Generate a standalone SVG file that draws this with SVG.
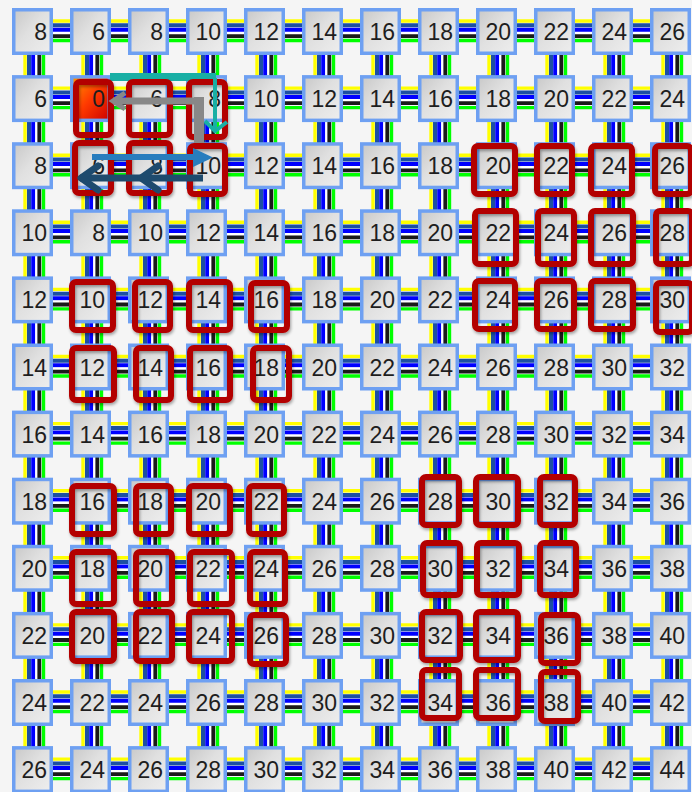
<svg xmlns="http://www.w3.org/2000/svg" xmlns:xlink="http://www.w3.org/1999/xlink" width="692" height="792" viewBox="0 0 692 792">
<style>
.nd{fill:url(#gNode);stroke:#6ea0f2;stroke-width:3.5}
.st{fill:url(#gStart);stroke:#6ea0f2;stroke-width:3.5}
text{font-family:"Liberation Sans",Arial,sans-serif;font-size:23px;fill:#1e1e1e;text-anchor:end}
.hl{fill:none;stroke:#b30000;stroke-width:6;filter:url(#sh)}
.cy{stroke:#ffff00;stroke-width:3.4}
.cd{stroke:#1c4fa3;stroke-width:4}
.cb{stroke:#0000ff;stroke-width:4}
.cw{stroke:#ffffff;stroke-width:2}
.ck{stroke:#1a1a1a;stroke-width:3.8}
.cg{stroke:#00ff00;stroke-width:3.4}
</style>
<defs>
<linearGradient id="gNode" x1="0" y1="0" x2="1" y2="1"><stop offset="0" stop-color="#c8c8c8"/><stop offset="0.45" stop-color="#e0e0e0"/><stop offset="1" stop-color="#eeeeee"/></linearGradient>
<linearGradient id="gStart" x1="0" y1="0" x2="1" y2="1"><stop offset="0" stop-color="#ff9a00"/><stop offset="0.5" stop-color="#ff3a00"/><stop offset="1" stop-color="#cc0000"/></linearGradient>
<filter id="sh" x="-30%" y="-30%" width="160%" height="160%"><feDropShadow dx="1" dy="2" stdDeviation="1.5" flood-color="#000" flood-opacity="0.35"/></filter>
<g id="h"><line x1="-1" x2="59" y1="-10.5" y2="-10.5" class="cy"/><line x1="-1" x2="59" y1="-6.2" y2="-6.2" class="cd"/><line x1="-1" x2="59" y1="-1.7" y2="-1.7" class="cb"/><line x1="-1" x2="59" y1="1.5" y2="1.5" class="cw"/><line x1="-1" x2="59" y1="4.6" y2="4.6" class="ck"/><line x1="-1" x2="59" y1="9" y2="9" class="cg"/></g>
<g id="v"><line y1="-1" y2="68" x1="-7.5" x2="-7.5" class="cy"/><line y1="-1" y2="68" x1="-3.5" x2="-3.5" class="cd"/><line y1="-1" y2="68" x1="0.7" x2="0.7" class="cb"/><line y1="-1" y2="68" x1="3.8" x2="3.8" class="cw"/><line y1="-1" y2="68" x1="6.8" x2="6.8" class="ck"/><line y1="-1" y2="68" x1="11" x2="11" class="cg"/></g>
</defs>
<rect width="692" height="792" fill="#f5f5f5"/>
<g id="connectors">
<use href="#h" x="32.5" y="31.5"/><use href="#h" x="90.5" y="31.5"/><use href="#h" x="148.5" y="31.5"/><use href="#h" x="206.5" y="31.5"/><use href="#h" x="264.5" y="31.5"/><use href="#h" x="322.5" y="31.5"/><use href="#h" x="380.5" y="31.5"/><use href="#h" x="438.5" y="31.5"/><use href="#h" x="496.5" y="31.5"/><use href="#h" x="554.5" y="31.5"/><use href="#h" x="612.5" y="31.5"/>
<use href="#h" x="32.5" y="98.6"/><use href="#h" x="90.5" y="98.6"/><use href="#h" x="148.5" y="98.6"/><use href="#h" x="206.5" y="98.6"/><use href="#h" x="264.5" y="98.6"/><use href="#h" x="322.5" y="98.6"/><use href="#h" x="380.5" y="98.6"/><use href="#h" x="438.5" y="98.6"/><use href="#h" x="496.5" y="98.6"/><use href="#h" x="554.5" y="98.6"/><use href="#h" x="612.5" y="98.6"/>
<use href="#h" x="32.5" y="165.7"/><use href="#h" x="90.5" y="165.7"/><use href="#h" x="148.5" y="165.7"/><use href="#h" x="206.5" y="165.7"/><use href="#h" x="264.5" y="165.7"/><use href="#h" x="322.5" y="165.7"/><use href="#h" x="380.5" y="165.7"/><use href="#h" x="438.5" y="165.7"/><use href="#h" x="496.5" y="165.7"/><use href="#h" x="554.5" y="165.7"/><use href="#h" x="612.5" y="165.7"/>
<use href="#h" x="32.5" y="232.8"/><use href="#h" x="90.5" y="232.8"/><use href="#h" x="148.5" y="232.8"/><use href="#h" x="206.5" y="232.8"/><use href="#h" x="264.5" y="232.8"/><use href="#h" x="322.5" y="232.8"/><use href="#h" x="380.5" y="232.8"/><use href="#h" x="438.5" y="232.8"/><use href="#h" x="496.5" y="232.8"/><use href="#h" x="554.5" y="232.8"/><use href="#h" x="612.5" y="232.8"/>
<use href="#h" x="32.5" y="299.9"/><use href="#h" x="90.5" y="299.9"/><use href="#h" x="148.5" y="299.9"/><use href="#h" x="206.5" y="299.9"/><use href="#h" x="264.5" y="299.9"/><use href="#h" x="322.5" y="299.9"/><use href="#h" x="380.5" y="299.9"/><use href="#h" x="438.5" y="299.9"/><use href="#h" x="496.5" y="299.9"/><use href="#h" x="554.5" y="299.9"/><use href="#h" x="612.5" y="299.9"/>
<use href="#h" x="32.5" y="367"/><use href="#h" x="90.5" y="367"/><use href="#h" x="148.5" y="367"/><use href="#h" x="206.5" y="367"/><use href="#h" x="264.5" y="367"/><use href="#h" x="322.5" y="367"/><use href="#h" x="380.5" y="367"/><use href="#h" x="438.5" y="367"/><use href="#h" x="496.5" y="367"/><use href="#h" x="554.5" y="367"/><use href="#h" x="612.5" y="367"/>
<use href="#h" x="32.5" y="434.1"/><use href="#h" x="90.5" y="434.1"/><use href="#h" x="148.5" y="434.1"/><use href="#h" x="206.5" y="434.1"/><use href="#h" x="264.5" y="434.1"/><use href="#h" x="322.5" y="434.1"/><use href="#h" x="380.5" y="434.1"/><use href="#h" x="438.5" y="434.1"/><use href="#h" x="496.5" y="434.1"/><use href="#h" x="554.5" y="434.1"/><use href="#h" x="612.5" y="434.1"/>
<use href="#h" x="32.5" y="501.2"/><use href="#h" x="90.5" y="501.2"/><use href="#h" x="148.5" y="501.2"/><use href="#h" x="206.5" y="501.2"/><use href="#h" x="264.5" y="501.2"/><use href="#h" x="322.5" y="501.2"/><use href="#h" x="380.5" y="501.2"/><use href="#h" x="438.5" y="501.2"/><use href="#h" x="496.5" y="501.2"/><use href="#h" x="554.5" y="501.2"/><use href="#h" x="612.5" y="501.2"/>
<use href="#h" x="32.5" y="568.3"/><use href="#h" x="90.5" y="568.3"/><use href="#h" x="148.5" y="568.3"/><use href="#h" x="206.5" y="568.3"/><use href="#h" x="264.5" y="568.3"/><use href="#h" x="322.5" y="568.3"/><use href="#h" x="380.5" y="568.3"/><use href="#h" x="438.5" y="568.3"/><use href="#h" x="496.5" y="568.3"/><use href="#h" x="554.5" y="568.3"/><use href="#h" x="612.5" y="568.3"/>
<use href="#h" x="32.5" y="635.4"/><use href="#h" x="90.5" y="635.4"/><use href="#h" x="148.5" y="635.4"/><use href="#h" x="206.5" y="635.4"/><use href="#h" x="264.5" y="635.4"/><use href="#h" x="322.5" y="635.4"/><use href="#h" x="380.5" y="635.4"/><use href="#h" x="438.5" y="635.4"/><use href="#h" x="496.5" y="635.4"/><use href="#h" x="554.5" y="635.4"/><use href="#h" x="612.5" y="635.4"/>
<use href="#h" x="32.5" y="702.5"/><use href="#h" x="90.5" y="702.5"/><use href="#h" x="148.5" y="702.5"/><use href="#h" x="206.5" y="702.5"/><use href="#h" x="264.5" y="702.5"/><use href="#h" x="322.5" y="702.5"/><use href="#h" x="380.5" y="702.5"/><use href="#h" x="438.5" y="702.5"/><use href="#h" x="496.5" y="702.5"/><use href="#h" x="554.5" y="702.5"/><use href="#h" x="612.5" y="702.5"/>
<use href="#h" x="32.5" y="769.6"/><use href="#h" x="90.5" y="769.6"/><use href="#h" x="148.5" y="769.6"/><use href="#h" x="206.5" y="769.6"/><use href="#h" x="264.5" y="769.6"/><use href="#h" x="322.5" y="769.6"/><use href="#h" x="380.5" y="769.6"/><use href="#h" x="438.5" y="769.6"/><use href="#h" x="496.5" y="769.6"/><use href="#h" x="554.5" y="769.6"/><use href="#h" x="612.5" y="769.6"/>
<use href="#v" x="32.5" y="31.5"/><use href="#v" x="32.5" y="98.6"/><use href="#v" x="32.5" y="165.7"/><use href="#v" x="32.5" y="232.8"/><use href="#v" x="32.5" y="299.9"/><use href="#v" x="32.5" y="367"/><use href="#v" x="32.5" y="434.1"/><use href="#v" x="32.5" y="501.2"/><use href="#v" x="32.5" y="568.3"/><use href="#v" x="32.5" y="635.4"/><use href="#v" x="32.5" y="702.5"/>
<use href="#v" x="90.5" y="31.5"/><use href="#v" x="90.5" y="98.6"/><use href="#v" x="90.5" y="165.7"/><use href="#v" x="90.5" y="232.8"/><use href="#v" x="90.5" y="299.9"/><use href="#v" x="90.5" y="367"/><use href="#v" x="90.5" y="434.1"/><use href="#v" x="90.5" y="501.2"/><use href="#v" x="90.5" y="568.3"/><use href="#v" x="90.5" y="635.4"/><use href="#v" x="90.5" y="702.5"/>
<use href="#v" x="148.5" y="31.5"/><use href="#v" x="148.5" y="98.6"/><use href="#v" x="148.5" y="165.7"/><use href="#v" x="148.5" y="232.8"/><use href="#v" x="148.5" y="299.9"/><use href="#v" x="148.5" y="367"/><use href="#v" x="148.5" y="434.1"/><use href="#v" x="148.5" y="501.2"/><use href="#v" x="148.5" y="568.3"/><use href="#v" x="148.5" y="635.4"/><use href="#v" x="148.5" y="702.5"/>
<use href="#v" x="206.5" y="31.5"/><use href="#v" x="206.5" y="98.6"/><use href="#v" x="206.5" y="165.7"/><use href="#v" x="206.5" y="232.8"/><use href="#v" x="206.5" y="299.9"/><use href="#v" x="206.5" y="367"/><use href="#v" x="206.5" y="434.1"/><use href="#v" x="206.5" y="501.2"/><use href="#v" x="206.5" y="568.3"/><use href="#v" x="206.5" y="635.4"/><use href="#v" x="206.5" y="702.5"/>
<use href="#v" x="264.5" y="31.5"/><use href="#v" x="264.5" y="98.6"/><use href="#v" x="264.5" y="165.7"/><use href="#v" x="264.5" y="232.8"/><use href="#v" x="264.5" y="299.9"/><use href="#v" x="264.5" y="367"/><use href="#v" x="264.5" y="434.1"/><use href="#v" x="264.5" y="501.2"/><use href="#v" x="264.5" y="568.3"/><use href="#v" x="264.5" y="635.4"/><use href="#v" x="264.5" y="702.5"/>
<use href="#v" x="322.5" y="31.5"/><use href="#v" x="322.5" y="98.6"/><use href="#v" x="322.5" y="165.7"/><use href="#v" x="322.5" y="232.8"/><use href="#v" x="322.5" y="299.9"/><use href="#v" x="322.5" y="367"/><use href="#v" x="322.5" y="434.1"/><use href="#v" x="322.5" y="501.2"/><use href="#v" x="322.5" y="568.3"/><use href="#v" x="322.5" y="635.4"/><use href="#v" x="322.5" y="702.5"/>
<use href="#v" x="380.5" y="31.5"/><use href="#v" x="380.5" y="98.6"/><use href="#v" x="380.5" y="165.7"/><use href="#v" x="380.5" y="232.8"/><use href="#v" x="380.5" y="299.9"/><use href="#v" x="380.5" y="367"/><use href="#v" x="380.5" y="434.1"/><use href="#v" x="380.5" y="501.2"/><use href="#v" x="380.5" y="568.3"/><use href="#v" x="380.5" y="635.4"/><use href="#v" x="380.5" y="702.5"/>
<use href="#v" x="438.5" y="31.5"/><use href="#v" x="438.5" y="98.6"/><use href="#v" x="438.5" y="165.7"/><use href="#v" x="438.5" y="232.8"/><use href="#v" x="438.5" y="299.9"/><use href="#v" x="438.5" y="367"/><use href="#v" x="438.5" y="434.1"/><use href="#v" x="438.5" y="501.2"/><use href="#v" x="438.5" y="568.3"/><use href="#v" x="438.5" y="635.4"/><use href="#v" x="438.5" y="702.5"/>
<use href="#v" x="496.5" y="31.5"/><use href="#v" x="496.5" y="98.6"/><use href="#v" x="496.5" y="165.7"/><use href="#v" x="496.5" y="232.8"/><use href="#v" x="496.5" y="299.9"/><use href="#v" x="496.5" y="367"/><use href="#v" x="496.5" y="434.1"/><use href="#v" x="496.5" y="501.2"/><use href="#v" x="496.5" y="568.3"/><use href="#v" x="496.5" y="635.4"/><use href="#v" x="496.5" y="702.5"/>
<use href="#v" x="554.5" y="31.5"/><use href="#v" x="554.5" y="98.6"/><use href="#v" x="554.5" y="165.7"/><use href="#v" x="554.5" y="232.8"/><use href="#v" x="554.5" y="299.9"/><use href="#v" x="554.5" y="367"/><use href="#v" x="554.5" y="434.1"/><use href="#v" x="554.5" y="501.2"/><use href="#v" x="554.5" y="568.3"/><use href="#v" x="554.5" y="635.4"/><use href="#v" x="554.5" y="702.5"/>
<use href="#v" x="612.5" y="31.5"/><use href="#v" x="612.5" y="98.6"/><use href="#v" x="612.5" y="165.7"/><use href="#v" x="612.5" y="232.8"/><use href="#v" x="612.5" y="299.9"/><use href="#v" x="612.5" y="367"/><use href="#v" x="612.5" y="434.1"/><use href="#v" x="612.5" y="501.2"/><use href="#v" x="612.5" y="568.3"/><use href="#v" x="612.5" y="635.4"/><use href="#v" x="612.5" y="702.5"/>
<use href="#v" x="670.5" y="31.5"/><use href="#v" x="670.5" y="98.6"/><use href="#v" x="670.5" y="165.7"/><use href="#v" x="670.5" y="232.8"/><use href="#v" x="670.5" y="299.9"/><use href="#v" x="670.5" y="367"/><use href="#v" x="670.5" y="434.1"/><use href="#v" x="670.5" y="501.2"/><use href="#v" x="670.5" y="568.3"/><use href="#v" x="670.5" y="635.4"/><use href="#v" x="670.5" y="702.5"/>
</g>
<g id="nodes">
<g id="n0-0" transform="translate(12 8)"><rect class="nd" x="1.75" y="1.75" width="37.5" height="43.5"/><text x="35" y="32">8</text></g>
<g id="n0-1" transform="translate(70 8)"><rect class="nd" x="1.75" y="1.75" width="37.5" height="43.5"/><text x="35" y="32">6</text></g>
<g id="n0-2" transform="translate(128 8)"><rect class="nd" x="1.75" y="1.75" width="37.5" height="43.5"/><text x="35" y="32">8</text></g>
<g id="n0-3" transform="translate(186 8)"><rect class="nd" x="1.75" y="1.75" width="37.5" height="43.5"/><text x="35" y="32">10</text></g>
<g id="n0-4" transform="translate(244 8)"><rect class="nd" x="1.75" y="1.75" width="37.5" height="43.5"/><text x="35" y="32">12</text></g>
<g id="n0-5" transform="translate(302 8)"><rect class="nd" x="1.75" y="1.75" width="37.5" height="43.5"/><text x="35" y="32">14</text></g>
<g id="n0-6" transform="translate(360 8)"><rect class="nd" x="1.75" y="1.75" width="37.5" height="43.5"/><text x="35" y="32">16</text></g>
<g id="n0-7" transform="translate(418 8)"><rect class="nd" x="1.75" y="1.75" width="37.5" height="43.5"/><text x="35" y="32">18</text></g>
<g id="n0-8" transform="translate(476 8)"><rect class="nd" x="1.75" y="1.75" width="37.5" height="43.5"/><text x="35" y="32">20</text></g>
<g id="n0-9" transform="translate(534 8)"><rect class="nd" x="1.75" y="1.75" width="37.5" height="43.5"/><text x="35" y="32">22</text></g>
<g id="n0-10" transform="translate(592 8)"><rect class="nd" x="1.75" y="1.75" width="37.5" height="43.5"/><text x="35" y="32">24</text></g>
<g id="n0-11" transform="translate(650 8)"><rect class="nd" x="1.75" y="1.75" width="37.5" height="43.5"/><text x="35" y="32">26</text></g>
<g id="n1-0" transform="translate(12 75.1)"><rect class="nd" x="1.75" y="1.75" width="37.5" height="43.5"/><text x="35" y="32">6</text></g>
<g id="n1-1" transform="translate(70 75.1)"><rect class="st" x="1.75" y="1.75" width="37.5" height="43.5"/><text x="35" y="32">0</text></g>
<g id="n1-2" transform="translate(128 75.1)"><rect class="nd" x="1.75" y="1.75" width="37.5" height="43.5"/><text x="35" y="32">6</text></g>
<g id="n1-3" transform="translate(186 75.1)"><rect class="nd" x="1.75" y="1.75" width="37.5" height="43.5"/><text x="35" y="32">8</text></g>
<g id="n1-4" transform="translate(244 75.1)"><rect class="nd" x="1.75" y="1.75" width="37.5" height="43.5"/><text x="35" y="32">10</text></g>
<g id="n1-5" transform="translate(302 75.1)"><rect class="nd" x="1.75" y="1.75" width="37.5" height="43.5"/><text x="35" y="32">12</text></g>
<g id="n1-6" transform="translate(360 75.1)"><rect class="nd" x="1.75" y="1.75" width="37.5" height="43.5"/><text x="35" y="32">14</text></g>
<g id="n1-7" transform="translate(418 75.1)"><rect class="nd" x="1.75" y="1.75" width="37.5" height="43.5"/><text x="35" y="32">16</text></g>
<g id="n1-8" transform="translate(476 75.1)"><rect class="nd" x="1.75" y="1.75" width="37.5" height="43.5"/><text x="35" y="32">18</text></g>
<g id="n1-9" transform="translate(534 75.1)"><rect class="nd" x="1.75" y="1.75" width="37.5" height="43.5"/><text x="35" y="32">20</text></g>
<g id="n1-10" transform="translate(592 75.1)"><rect class="nd" x="1.75" y="1.75" width="37.5" height="43.5"/><text x="35" y="32">22</text></g>
<g id="n1-11" transform="translate(650 75.1)"><rect class="nd" x="1.75" y="1.75" width="37.5" height="43.5"/><text x="35" y="32">24</text></g>
<g id="n2-0" transform="translate(12 142.2)"><rect class="nd" x="1.75" y="1.75" width="37.5" height="43.5"/><text x="35" y="32">8</text></g>
<g id="n2-1" transform="translate(70 142.2)"><rect class="nd" x="1.75" y="1.75" width="37.5" height="43.5"/><text x="35" y="32">6</text></g>
<g id="n2-2" transform="translate(128 142.2)"><rect class="nd" x="1.75" y="1.75" width="37.5" height="43.5"/><text x="35" y="32">8</text></g>
<g id="n2-3" transform="translate(186 142.2)"><rect class="nd" x="1.75" y="1.75" width="37.5" height="43.5"/><text x="35" y="32">10</text></g>
<g id="n2-4" transform="translate(244 142.2)"><rect class="nd" x="1.75" y="1.75" width="37.5" height="43.5"/><text x="35" y="32">12</text></g>
<g id="n2-5" transform="translate(302 142.2)"><rect class="nd" x="1.75" y="1.75" width="37.5" height="43.5"/><text x="35" y="32">14</text></g>
<g id="n2-6" transform="translate(360 142.2)"><rect class="nd" x="1.75" y="1.75" width="37.5" height="43.5"/><text x="35" y="32">16</text></g>
<g id="n2-7" transform="translate(418 142.2)"><rect class="nd" x="1.75" y="1.75" width="37.5" height="43.5"/><text x="35" y="32">18</text></g>
<g id="n2-8" transform="translate(476 142.2)"><rect class="nd" x="1.75" y="1.75" width="37.5" height="43.5"/><text x="35" y="32">20</text></g>
<g id="n2-9" transform="translate(534 142.2)"><rect class="nd" x="1.75" y="1.75" width="37.5" height="43.5"/><text x="35" y="32">22</text></g>
<g id="n2-10" transform="translate(592 142.2)"><rect class="nd" x="1.75" y="1.75" width="37.5" height="43.5"/><text x="35" y="32">24</text></g>
<g id="n2-11" transform="translate(650 142.2)"><rect class="nd" x="1.75" y="1.75" width="37.5" height="43.5"/><text x="35" y="32">26</text></g>
<g id="n3-0" transform="translate(12 209.3)"><rect class="nd" x="1.75" y="1.75" width="37.5" height="43.5"/><text x="35" y="32">10</text></g>
<g id="n3-1" transform="translate(70 209.3)"><rect class="nd" x="1.75" y="1.75" width="37.5" height="43.5"/><text x="35" y="32">8</text></g>
<g id="n3-2" transform="translate(128 209.3)"><rect class="nd" x="1.75" y="1.75" width="37.5" height="43.5"/><text x="35" y="32">10</text></g>
<g id="n3-3" transform="translate(186 209.3)"><rect class="nd" x="1.75" y="1.75" width="37.5" height="43.5"/><text x="35" y="32">12</text></g>
<g id="n3-4" transform="translate(244 209.3)"><rect class="nd" x="1.75" y="1.75" width="37.5" height="43.5"/><text x="35" y="32">14</text></g>
<g id="n3-5" transform="translate(302 209.3)"><rect class="nd" x="1.75" y="1.75" width="37.5" height="43.5"/><text x="35" y="32">16</text></g>
<g id="n3-6" transform="translate(360 209.3)"><rect class="nd" x="1.75" y="1.75" width="37.5" height="43.5"/><text x="35" y="32">18</text></g>
<g id="n3-7" transform="translate(418 209.3)"><rect class="nd" x="1.75" y="1.75" width="37.5" height="43.5"/><text x="35" y="32">20</text></g>
<g id="n3-8" transform="translate(476 209.3)"><rect class="nd" x="1.75" y="1.75" width="37.5" height="43.5"/><text x="35" y="32">22</text></g>
<g id="n3-9" transform="translate(534 209.3)"><rect class="nd" x="1.75" y="1.75" width="37.5" height="43.5"/><text x="35" y="32">24</text></g>
<g id="n3-10" transform="translate(592 209.3)"><rect class="nd" x="1.75" y="1.75" width="37.5" height="43.5"/><text x="35" y="32">26</text></g>
<g id="n3-11" transform="translate(650 209.3)"><rect class="nd" x="1.75" y="1.75" width="37.5" height="43.5"/><text x="35" y="32">28</text></g>
<g id="n4-0" transform="translate(12 276.4)"><rect class="nd" x="1.75" y="1.75" width="37.5" height="43.5"/><text x="35" y="32">12</text></g>
<g id="n4-1" transform="translate(70 276.4)"><rect class="nd" x="1.75" y="1.75" width="37.5" height="43.5"/><text x="35" y="32">10</text></g>
<g id="n4-2" transform="translate(128 276.4)"><rect class="nd" x="1.75" y="1.75" width="37.5" height="43.5"/><text x="35" y="32">12</text></g>
<g id="n4-3" transform="translate(186 276.4)"><rect class="nd" x="1.75" y="1.75" width="37.5" height="43.5"/><text x="35" y="32">14</text></g>
<g id="n4-4" transform="translate(244 276.4)"><rect class="nd" x="1.75" y="1.75" width="37.5" height="43.5"/><text x="35" y="32">16</text></g>
<g id="n4-5" transform="translate(302 276.4)"><rect class="nd" x="1.75" y="1.75" width="37.5" height="43.5"/><text x="35" y="32">18</text></g>
<g id="n4-6" transform="translate(360 276.4)"><rect class="nd" x="1.75" y="1.75" width="37.5" height="43.5"/><text x="35" y="32">20</text></g>
<g id="n4-7" transform="translate(418 276.4)"><rect class="nd" x="1.75" y="1.75" width="37.5" height="43.5"/><text x="35" y="32">22</text></g>
<g id="n4-8" transform="translate(476 276.4)"><rect class="nd" x="1.75" y="1.75" width="37.5" height="43.5"/><text x="35" y="32">24</text></g>
<g id="n4-9" transform="translate(534 276.4)"><rect class="nd" x="1.75" y="1.75" width="37.5" height="43.5"/><text x="35" y="32">26</text></g>
<g id="n4-10" transform="translate(592 276.4)"><rect class="nd" x="1.75" y="1.75" width="37.5" height="43.5"/><text x="35" y="32">28</text></g>
<g id="n4-11" transform="translate(650 276.4)"><rect class="nd" x="1.75" y="1.75" width="37.5" height="43.5"/><text x="35" y="32">30</text></g>
<g id="n5-0" transform="translate(12 343.5)"><rect class="nd" x="1.75" y="1.75" width="37.5" height="43.5"/><text x="35" y="32">14</text></g>
<g id="n5-1" transform="translate(70 343.5)"><rect class="nd" x="1.75" y="1.75" width="37.5" height="43.5"/><text x="35" y="32">12</text></g>
<g id="n5-2" transform="translate(128 343.5)"><rect class="nd" x="1.75" y="1.75" width="37.5" height="43.5"/><text x="35" y="32">14</text></g>
<g id="n5-3" transform="translate(186 343.5)"><rect class="nd" x="1.75" y="1.75" width="37.5" height="43.5"/><text x="35" y="32">16</text></g>
<g id="n5-4" transform="translate(244 343.5)"><rect class="nd" x="1.75" y="1.75" width="37.5" height="43.5"/><text x="35" y="32">18</text></g>
<g id="n5-5" transform="translate(302 343.5)"><rect class="nd" x="1.75" y="1.75" width="37.5" height="43.5"/><text x="35" y="32">20</text></g>
<g id="n5-6" transform="translate(360 343.5)"><rect class="nd" x="1.75" y="1.75" width="37.5" height="43.5"/><text x="35" y="32">22</text></g>
<g id="n5-7" transform="translate(418 343.5)"><rect class="nd" x="1.75" y="1.75" width="37.5" height="43.5"/><text x="35" y="32">24</text></g>
<g id="n5-8" transform="translate(476 343.5)"><rect class="nd" x="1.75" y="1.75" width="37.5" height="43.5"/><text x="35" y="32">26</text></g>
<g id="n5-9" transform="translate(534 343.5)"><rect class="nd" x="1.75" y="1.75" width="37.5" height="43.5"/><text x="35" y="32">28</text></g>
<g id="n5-10" transform="translate(592 343.5)"><rect class="nd" x="1.75" y="1.75" width="37.5" height="43.5"/><text x="35" y="32">30</text></g>
<g id="n5-11" transform="translate(650 343.5)"><rect class="nd" x="1.75" y="1.75" width="37.5" height="43.5"/><text x="35" y="32">32</text></g>
<g id="n6-0" transform="translate(12 410.6)"><rect class="nd" x="1.75" y="1.75" width="37.5" height="43.5"/><text x="35" y="32">16</text></g>
<g id="n6-1" transform="translate(70 410.6)"><rect class="nd" x="1.75" y="1.75" width="37.5" height="43.5"/><text x="35" y="32">14</text></g>
<g id="n6-2" transform="translate(128 410.6)"><rect class="nd" x="1.75" y="1.75" width="37.5" height="43.5"/><text x="35" y="32">16</text></g>
<g id="n6-3" transform="translate(186 410.6)"><rect class="nd" x="1.75" y="1.75" width="37.5" height="43.5"/><text x="35" y="32">18</text></g>
<g id="n6-4" transform="translate(244 410.6)"><rect class="nd" x="1.75" y="1.75" width="37.5" height="43.5"/><text x="35" y="32">20</text></g>
<g id="n6-5" transform="translate(302 410.6)"><rect class="nd" x="1.75" y="1.75" width="37.5" height="43.5"/><text x="35" y="32">22</text></g>
<g id="n6-6" transform="translate(360 410.6)"><rect class="nd" x="1.75" y="1.75" width="37.5" height="43.5"/><text x="35" y="32">24</text></g>
<g id="n6-7" transform="translate(418 410.6)"><rect class="nd" x="1.75" y="1.75" width="37.5" height="43.5"/><text x="35" y="32">26</text></g>
<g id="n6-8" transform="translate(476 410.6)"><rect class="nd" x="1.75" y="1.75" width="37.5" height="43.5"/><text x="35" y="32">28</text></g>
<g id="n6-9" transform="translate(534 410.6)"><rect class="nd" x="1.75" y="1.75" width="37.5" height="43.5"/><text x="35" y="32">30</text></g>
<g id="n6-10" transform="translate(592 410.6)"><rect class="nd" x="1.75" y="1.75" width="37.5" height="43.5"/><text x="35" y="32">32</text></g>
<g id="n6-11" transform="translate(650 410.6)"><rect class="nd" x="1.75" y="1.75" width="37.5" height="43.5"/><text x="35" y="32">34</text></g>
<g id="n7-0" transform="translate(12 477.7)"><rect class="nd" x="1.75" y="1.75" width="37.5" height="43.5"/><text x="35" y="32">18</text></g>
<g id="n7-1" transform="translate(70 477.7)"><rect class="nd" x="1.75" y="1.75" width="37.5" height="43.5"/><text x="35" y="32">16</text></g>
<g id="n7-2" transform="translate(128 477.7)"><rect class="nd" x="1.75" y="1.75" width="37.5" height="43.5"/><text x="35" y="32">18</text></g>
<g id="n7-3" transform="translate(186 477.7)"><rect class="nd" x="1.75" y="1.75" width="37.5" height="43.5"/><text x="35" y="32">20</text></g>
<g id="n7-4" transform="translate(244 477.7)"><rect class="nd" x="1.75" y="1.75" width="37.5" height="43.5"/><text x="35" y="32">22</text></g>
<g id="n7-5" transform="translate(302 477.7)"><rect class="nd" x="1.75" y="1.75" width="37.5" height="43.5"/><text x="35" y="32">24</text></g>
<g id="n7-6" transform="translate(360 477.7)"><rect class="nd" x="1.75" y="1.75" width="37.5" height="43.5"/><text x="35" y="32">26</text></g>
<g id="n7-7" transform="translate(418 477.7)"><rect class="nd" x="1.75" y="1.75" width="37.5" height="43.5"/><text x="35" y="32">28</text></g>
<g id="n7-8" transform="translate(476 477.7)"><rect class="nd" x="1.75" y="1.75" width="37.5" height="43.5"/><text x="35" y="32">30</text></g>
<g id="n7-9" transform="translate(534 477.7)"><rect class="nd" x="1.75" y="1.75" width="37.5" height="43.5"/><text x="35" y="32">32</text></g>
<g id="n7-10" transform="translate(592 477.7)"><rect class="nd" x="1.75" y="1.75" width="37.5" height="43.5"/><text x="35" y="32">34</text></g>
<g id="n7-11" transform="translate(650 477.7)"><rect class="nd" x="1.75" y="1.75" width="37.5" height="43.5"/><text x="35" y="32">36</text></g>
<g id="n8-0" transform="translate(12 544.8)"><rect class="nd" x="1.75" y="1.75" width="37.5" height="43.5"/><text x="35" y="32">20</text></g>
<g id="n8-1" transform="translate(70 544.8)"><rect class="nd" x="1.75" y="1.75" width="37.5" height="43.5"/><text x="35" y="32">18</text></g>
<g id="n8-2" transform="translate(128 544.8)"><rect class="nd" x="1.75" y="1.75" width="37.5" height="43.5"/><text x="35" y="32">20</text></g>
<g id="n8-3" transform="translate(186 544.8)"><rect class="nd" x="1.75" y="1.75" width="37.5" height="43.5"/><text x="35" y="32">22</text></g>
<g id="n8-4" transform="translate(244 544.8)"><rect class="nd" x="1.75" y="1.75" width="37.5" height="43.5"/><text x="35" y="32">24</text></g>
<g id="n8-5" transform="translate(302 544.8)"><rect class="nd" x="1.75" y="1.75" width="37.5" height="43.5"/><text x="35" y="32">26</text></g>
<g id="n8-6" transform="translate(360 544.8)"><rect class="nd" x="1.75" y="1.75" width="37.5" height="43.5"/><text x="35" y="32">28</text></g>
<g id="n8-7" transform="translate(418 544.8)"><rect class="nd" x="1.75" y="1.75" width="37.5" height="43.5"/><text x="35" y="32">30</text></g>
<g id="n8-8" transform="translate(476 544.8)"><rect class="nd" x="1.75" y="1.75" width="37.5" height="43.5"/><text x="35" y="32">32</text></g>
<g id="n8-9" transform="translate(534 544.8)"><rect class="nd" x="1.75" y="1.75" width="37.5" height="43.5"/><text x="35" y="32">34</text></g>
<g id="n8-10" transform="translate(592 544.8)"><rect class="nd" x="1.75" y="1.75" width="37.5" height="43.5"/><text x="35" y="32">36</text></g>
<g id="n8-11" transform="translate(650 544.8)"><rect class="nd" x="1.75" y="1.75" width="37.5" height="43.5"/><text x="35" y="32">38</text></g>
<g id="n9-0" transform="translate(12 611.9)"><rect class="nd" x="1.75" y="1.75" width="37.5" height="43.5"/><text x="35" y="32">22</text></g>
<g id="n9-1" transform="translate(70 611.9)"><rect class="nd" x="1.75" y="1.75" width="37.5" height="43.5"/><text x="35" y="32">20</text></g>
<g id="n9-2" transform="translate(128 611.9)"><rect class="nd" x="1.75" y="1.75" width="37.5" height="43.5"/><text x="35" y="32">22</text></g>
<g id="n9-3" transform="translate(186 611.9)"><rect class="nd" x="1.75" y="1.75" width="37.5" height="43.5"/><text x="35" y="32">24</text></g>
<g id="n9-4" transform="translate(244 611.9)"><rect class="nd" x="1.75" y="1.75" width="37.5" height="43.5"/><text x="35" y="32">26</text></g>
<g id="n9-5" transform="translate(302 611.9)"><rect class="nd" x="1.75" y="1.75" width="37.5" height="43.5"/><text x="35" y="32">28</text></g>
<g id="n9-6" transform="translate(360 611.9)"><rect class="nd" x="1.75" y="1.75" width="37.5" height="43.5"/><text x="35" y="32">30</text></g>
<g id="n9-7" transform="translate(418 611.9)"><rect class="nd" x="1.75" y="1.75" width="37.5" height="43.5"/><text x="35" y="32">32</text></g>
<g id="n9-8" transform="translate(476 611.9)"><rect class="nd" x="1.75" y="1.75" width="37.5" height="43.5"/><text x="35" y="32">34</text></g>
<g id="n9-9" transform="translate(534 611.9)"><rect class="nd" x="1.75" y="1.75" width="37.5" height="43.5"/><text x="35" y="32">36</text></g>
<g id="n9-10" transform="translate(592 611.9)"><rect class="nd" x="1.75" y="1.75" width="37.5" height="43.5"/><text x="35" y="32">38</text></g>
<g id="n9-11" transform="translate(650 611.9)"><rect class="nd" x="1.75" y="1.75" width="37.5" height="43.5"/><text x="35" y="32">40</text></g>
<g id="n10-0" transform="translate(12 679)"><rect class="nd" x="1.75" y="1.75" width="37.5" height="43.5"/><text x="35" y="32">24</text></g>
<g id="n10-1" transform="translate(70 679)"><rect class="nd" x="1.75" y="1.75" width="37.5" height="43.5"/><text x="35" y="32">22</text></g>
<g id="n10-2" transform="translate(128 679)"><rect class="nd" x="1.75" y="1.75" width="37.5" height="43.5"/><text x="35" y="32">24</text></g>
<g id="n10-3" transform="translate(186 679)"><rect class="nd" x="1.75" y="1.75" width="37.5" height="43.5"/><text x="35" y="32">26</text></g>
<g id="n10-4" transform="translate(244 679)"><rect class="nd" x="1.75" y="1.75" width="37.5" height="43.5"/><text x="35" y="32">28</text></g>
<g id="n10-5" transform="translate(302 679)"><rect class="nd" x="1.75" y="1.75" width="37.5" height="43.5"/><text x="35" y="32">30</text></g>
<g id="n10-6" transform="translate(360 679)"><rect class="nd" x="1.75" y="1.75" width="37.5" height="43.5"/><text x="35" y="32">32</text></g>
<g id="n10-7" transform="translate(418 679)"><rect class="nd" x="1.75" y="1.75" width="37.5" height="43.5"/><text x="35" y="32">34</text></g>
<g id="n10-8" transform="translate(476 679)"><rect class="nd" x="1.75" y="1.75" width="37.5" height="43.5"/><text x="35" y="32">36</text></g>
<g id="n10-9" transform="translate(534 679)"><rect class="nd" x="1.75" y="1.75" width="37.5" height="43.5"/><text x="35" y="32">38</text></g>
<g id="n10-10" transform="translate(592 679)"><rect class="nd" x="1.75" y="1.75" width="37.5" height="43.5"/><text x="35" y="32">40</text></g>
<g id="n10-11" transform="translate(650 679)"><rect class="nd" x="1.75" y="1.75" width="37.5" height="43.5"/><text x="35" y="32">42</text></g>
<g id="n11-0" transform="translate(12 746.1)"><rect class="nd" x="1.75" y="1.75" width="37.5" height="43.5"/><text x="35" y="32">26</text></g>
<g id="n11-1" transform="translate(70 746.1)"><rect class="nd" x="1.75" y="1.75" width="37.5" height="43.5"/><text x="35" y="32">24</text></g>
<g id="n11-2" transform="translate(128 746.1)"><rect class="nd" x="1.75" y="1.75" width="37.5" height="43.5"/><text x="35" y="32">26</text></g>
<g id="n11-3" transform="translate(186 746.1)"><rect class="nd" x="1.75" y="1.75" width="37.5" height="43.5"/><text x="35" y="32">28</text></g>
<g id="n11-4" transform="translate(244 746.1)"><rect class="nd" x="1.75" y="1.75" width="37.5" height="43.5"/><text x="35" y="32">30</text></g>
<g id="n11-5" transform="translate(302 746.1)"><rect class="nd" x="1.75" y="1.75" width="37.5" height="43.5"/><text x="35" y="32">32</text></g>
<g id="n11-6" transform="translate(360 746.1)"><rect class="nd" x="1.75" y="1.75" width="37.5" height="43.5"/><text x="35" y="32">34</text></g>
<g id="n11-7" transform="translate(418 746.1)"><rect class="nd" x="1.75" y="1.75" width="37.5" height="43.5"/><text x="35" y="32">36</text></g>
<g id="n11-8" transform="translate(476 746.1)"><rect class="nd" x="1.75" y="1.75" width="37.5" height="43.5"/><text x="35" y="32">38</text></g>
<g id="n11-9" transform="translate(534 746.1)"><rect class="nd" x="1.75" y="1.75" width="37.5" height="43.5"/><text x="35" y="32">40</text></g>
<g id="n11-10" transform="translate(592 746.1)"><rect class="nd" x="1.75" y="1.75" width="37.5" height="43.5"/><text x="35" y="32">42</text></g>
<g id="n11-11" transform="translate(650 746.1)"><rect class="nd" x="1.75" y="1.75" width="37.5" height="43.5"/><text x="35" y="32">44</text></g>
</g>
<g id="route-top">
<line x1="110" y1="77" x2="216" y2="77" stroke="#19afa5" stroke-width="8"/>
</g>
<g id="highlights">
<rect class="hl" rx="4" x="76" y="82" width="35" height="53"/>
<rect class="hl" rx="4" x="129" y="82" width="41" height="53"/>
<rect class="hl" rx="4" x="189" y="82" width="36" height="55"/>
<rect class="hl" rx="4" x="75" y="143" width="36" height="50"/>
<rect class="hl" rx="4" x="129" y="143" width="41" height="50"/>
<rect class="hl" rx="4" x="190" y="146" width="35" height="48"/>
<rect class="hl" rx="4" x="474" y="146" width="41" height="48"/>
<rect class="hl" rx="4" x="537" y="146" width="35" height="48"/>
<rect class="hl" rx="4" x="591" y="146" width="41" height="48"/>
<rect class="hl" rx="4" x="655" y="146" width="36" height="48"/>
<rect class="hl" rx="4" x="475" y="211" width="41" height="53"/>
<rect class="hl" rx="4" x="538" y="211" width="36" height="53"/>
<rect class="hl" rx="4" x="591" y="211" width="42" height="53"/>
<rect class="hl" rx="4" x="656" y="211" width="36" height="53"/>
<rect class="hl" rx="4" x="72" y="282" width="41" height="48"/>
<rect class="hl" rx="4" x="135" y="282" width="35" height="48"/>
<rect class="hl" rx="4" x="189" y="282" width="41" height="48"/>
<rect class="hl" rx="4" x="251" y="283" width="36" height="47"/>
<rect class="hl" rx="4" x="475" y="281" width="40" height="48"/>
<rect class="hl" rx="4" x="537" y="281" width="37" height="48"/>
<rect class="hl" rx="4" x="591" y="281" width="42" height="48"/>
<rect class="hl" rx="4" x="656" y="283" width="36" height="49"/>
<rect class="hl" rx="4" x="72" y="348" width="42" height="52"/>
<rect class="hl" rx="4" x="136" y="348" width="35" height="52"/>
<rect class="hl" rx="4" x="190" y="348" width="40" height="52"/>
<rect class="hl" rx="4" x="253" y="348" width="36" height="52"/>
<rect class="hl" rx="4" x="72" y="486" width="42" height="48"/>
<rect class="hl" rx="4" x="136" y="486" width="35" height="48"/>
<rect class="hl" rx="4" x="189" y="486" width="41" height="48"/>
<rect class="hl" rx="4" x="249" y="486" width="35" height="48"/>
<rect class="hl" rx="4" x="422" y="477" width="37" height="48"/>
<rect class="hl" rx="4" x="476" y="477" width="42" height="48"/>
<rect class="hl" rx="4" x="540" y="477" width="35" height="48"/>
<rect class="hl" rx="4" x="72" y="552" width="42" height="52"/>
<rect class="hl" rx="4" x="136" y="552" width="36" height="52"/>
<rect class="hl" rx="4" x="190" y="552" width="42" height="52"/>
<rect class="hl" rx="4" x="250" y="552" width="35" height="52"/>
<rect class="hl" rx="4" x="423" y="543" width="37" height="52"/>
<rect class="hl" rx="4" x="477" y="543" width="42" height="52"/>
<rect class="hl" rx="4" x="540" y="543" width="36" height="52"/>
<rect class="hl" rx="4" x="72" y="612" width="42" height="49"/>
<rect class="hl" rx="4" x="136" y="612" width="36" height="49"/>
<rect class="hl" rx="4" x="189" y="612" width="43" height="49"/>
<rect class="hl" rx="4" x="250" y="615" width="36" height="49"/>
<rect class="hl" rx="4" x="422" y="612" width="38" height="48"/>
<rect class="hl" rx="4" x="476" y="612" width="42" height="48"/>
<rect class="hl" rx="4" x="541" y="615" width="37" height="48"/>
<rect class="hl" rx="4" x="422" y="670" width="37" height="48"/>
<rect class="hl" rx="4" x="476" y="670" width="42" height="48"/>
<rect class="hl" rx="4" x="541" y="672" width="37" height="49"/>
</g>
<g id="route" fill="none">
<line x1="215" y1="78" x2="215" y2="130" stroke="#19afa5" stroke-width="4"/>
<polyline points="205,121 215,131 227,122" stroke="#19afa5" stroke-width="4"/>
<line x1="199" y1="97" x2="199" y2="143" stroke="#888888" stroke-width="10"/>
<line x1="199" y1="101" x2="113" y2="101" stroke="#888888" stroke-width="7"/>
<polyline points="125,93 113,101 125,109" stroke="#888888" stroke-width="5"/>
<line x1="92" y1="157" x2="196" y2="157" stroke="#287dbe" stroke-width="6"/>
<polygon points="193,148 213,157.5 193,167" fill="#287dbe"/>
<line x1="80" y1="178" x2="203" y2="178" stroke="#1e4b6e" stroke-width="7"/>
<polyline points="98,166 81,178 98,190" stroke="#1e4b6e" stroke-width="7" stroke-linecap="round" stroke-linejoin="round"/>
<polyline points="158,166 141,178 158,190" stroke="#1e4b6e" stroke-width="7" stroke-linecap="round" stroke-linejoin="round"/>
</g>
</svg>
